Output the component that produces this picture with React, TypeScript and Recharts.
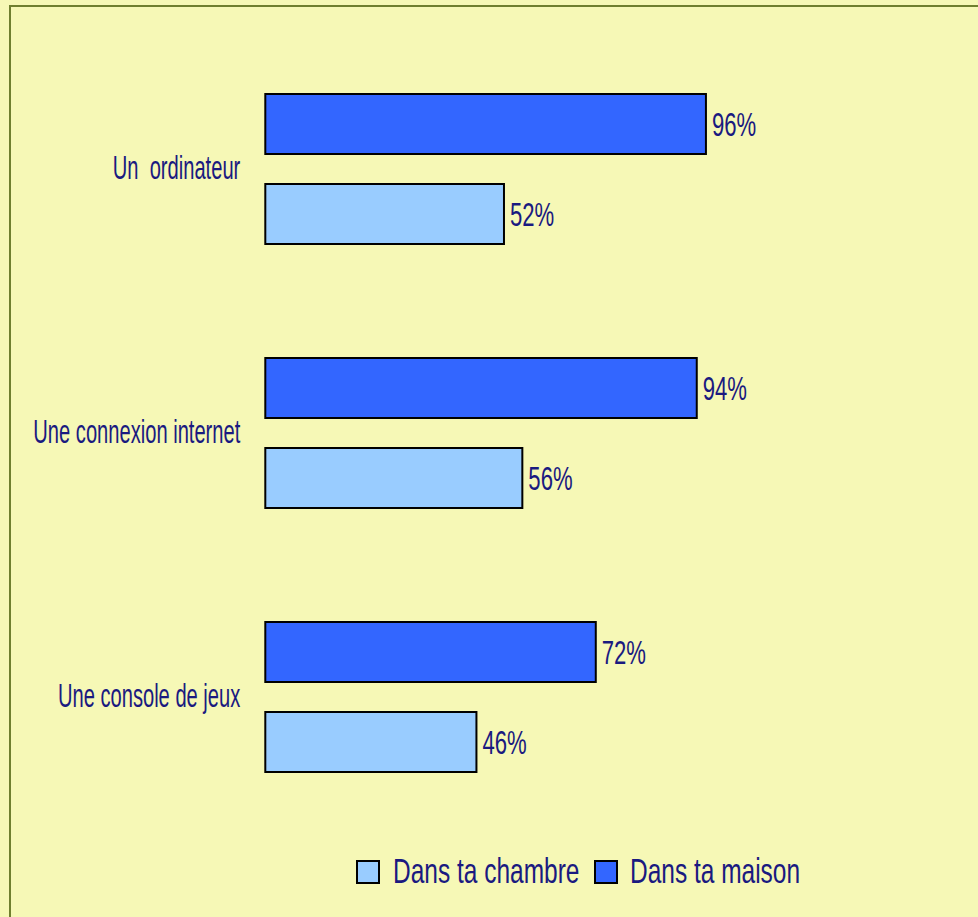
import React from 'react';
import { BarChart, Bar, XAxis, YAxis, LabelList } from 'recharts';

const categories = ['Un  ordinateur', 'Une connexion internet', 'Une console de jeux'];
const maisonValues = [96, 94, 72];
const chambreValues = [52, 56, 46];
const seriesNames = { maison: 'Dans ta maison', chambre: 'Dans ta chambre' };

const data = categories.map((c, i) => ({
  name: c,
  maison: maisonValues[i],
  chambre: chambreValues[i],
}));

const BG = '#F6F8B6';
const BORDER = '#6F7F2F';
const TEXT = '#1A1A80';
const DARK = '#3366FF';
const LIGHT = '#99CCFF';
const FONT = '"Liberation Sans", Arial, sans-serif';

const CategoryTick = (props: any) => {
  const { x, y, payload } = props;
  return (
    <text
      transform={`translate(${x - 25},${y + 10}) scale(0.61,1)`}
      x={0}
      y={0}
      textAnchor="end"
      fill={TEXT}
      fontSize={33}
      fontFamily={FONT}
      style={{ whiteSpace: 'pre' }}
    >
      {payload.value}
    </text>
  );
};

const ValueLabel = (props: any) => {
  const { x, y, width, height, value } = props;
  return (
    <text
      transform={`translate(${x + width + 6},${y + height / 2 + 11.5}) scale(0.67,1)`}
      x={0}
      y={0}
      textAnchor="start"
      fill={TEXT}
      fontSize={33}
      fontFamily={FONT}
    >
      {`${value}%`}
    </text>
  );
};

const legendItems = [
  { label: seriesNames.chambre, color: LIGHT, boxX: 357, textX: 393 },
  { label: seriesNames.maison, color: DARK, boxX: 595, textX: 630 },
];

export default function App() {
  return (
    <div
      style={{
        position: 'absolute',
        top: 0,
        left: 0,
        width: 978,
        height: 917,
        background: BG,
        overflow: 'hidden',
      }}
    >
      <div
        style={{
          position: 'absolute',
          left: 9,
          top: 5,
          width: 1200,
          height: 1200,
          borderLeft: `2px solid ${BORDER}`,
          borderTop: `2px solid ${BORDER}`,
        }}
      />
      <div style={{ position: 'absolute', left: 0, top: 0 }}>
        <BarChart
          width={978}
          height={917}
          data={data}
          layout="vertical"
          margin={{ top: 37, right: 253.7, bottom: 88, left: 0 }}
          barSize={60}
          barGap={30}
        >
          <XAxis type="number" domain={[0, 100]} hide />
          <YAxis
            type="category"
            dataKey="name"
            width={265.3}
            axisLine={false}
            tickLine={false}
            tickSize={0}
            tickMargin={0}
            tick={<CategoryTick />}
            interval={0}
          />
          <Bar dataKey="maison" name={seriesNames.maison} fill={DARK} stroke="#000" strokeWidth={2} isAnimationActive={false}>
            <LabelList dataKey="maison" content={<ValueLabel />} />
          </Bar>
          <Bar dataKey="chambre" name={seriesNames.chambre} fill={LIGHT} stroke="#000" strokeWidth={2} isAnimationActive={false}>
            <LabelList dataKey="chambre" content={<ValueLabel />} />
          </Bar>
        </BarChart>
      </div>
      <svg
        width={978}
        height={917}
        style={{ position: 'absolute', left: 0, top: 0, pointerEvents: 'none' }}
      >
        {legendItems.map((it) => (
          <g key={it.label}>
            <rect x={it.boxX} y={861} width={22} height={22} fill={it.color} stroke="#000" strokeWidth={2} />
            <text
              transform={`translate(${it.textX},883) scale(0.70,1)`}
              x={0}
              y={0}
              fill={TEXT}
              fontSize={35}
              fontFamily={FONT}
            >
              {it.label}
            </text>
          </g>
        ))}
      </svg>
    </div>
  );
}
